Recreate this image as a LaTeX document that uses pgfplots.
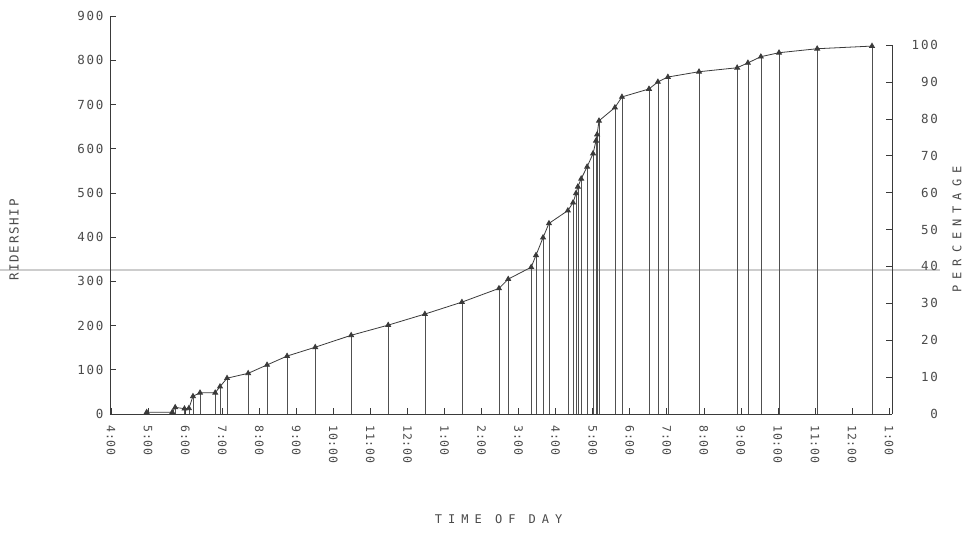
\documentclass[border=0pt]{standalone}
\usepackage{fontspec}
\setmainfont{DejaVu Sans}
\setmonofont{DejaVu Sans Mono}
\usepackage{pgfplots}
\pgfplotsset{compat=1.18}
\usepackage{pgfplotstable}
\newfontfamily\xtickfont[LetterSpace=7]{DejaVu Sans Mono}
\newfontfamily\ytickfont[LetterSpace=14]{DejaVu Sans Mono}
\newfontfamily\ridfont[LetterSpace=14]{DejaVu Sans Mono}
\newfontfamily\labfont[LetterSpace=50]{DejaVu Sans Mono}
\definecolor{ink}{HTML}{3A3A3A}
\definecolor{txt}{HTML}{4A4A4A}
\definecolor{stemc}{HTML}{505050}
\definecolor{scan}{HTML}{CDCDCD}

\pgfplotstableread{
h r
4.96 4
5.65 4
5.73 15
5.98 12
6.10 13
6.21 40
6.40 48
6.81 48
6.94 62
7.13 81
7.70 92
8.21 111
8.75 131
9.51 151
10.48 178
11.48 201
12.47 226
13.47 253
14.47 284
14.72 305
15.34 332
15.47 359
15.66 399
15.82 431
16.33 460
16.47 478
16.55 499
16.60 514
16.69 532
16.85 559
17.01 589
17.09 618
17.12 632
17.17 663
17.60 693
17.79 717
18.52 735
18.76 751
19.03 762
19.87 774
20.90 783
21.19 794
21.54 808
22.03 817
23.06 826
24.54 832
}\ridership

\begin{document}
\begin{tikzpicture}
\useasboundingbox (-110pt,-125pt) rectangle (857pt,414pt);
\draw[scan, line width=1.8pt] (-110pt,144pt) -- (830pt,144pt);
\begin{axis}[
  at={(0pt,0pt)}, anchor=south west,
  scale only axis, width=782pt, height=398pt,
  xmin=3.97, xmax=25.08, ymin=0, ymax=900,
  axis x line*=bottom, axis y line*=left,
  axis line style={ink, line width=0.9pt},
  xtick={4,...,25},
  xticklabels={4:00,5:00,6:00,7:00,8:00,9:00,10:00,11:00,12:00,1:00,2:00,3:00,4:00,5:00,6:00,7:00,8:00,9:00,10:00,11:00,12:00,1:00},
  ytick={0,100,...,900},
  tick align=inside,
  major tick length=6pt,
  tick style={ink, line width=0.6pt},
  /pgf/number format/assume math mode=true,
  xticklabel shift=8pt,
  xticklabel style={rotate=-90, anchor=west, font=\xtickfont\fontsize{11.5}{11.5}\selectfont, text=txt},
  yticklabel style={font=\ytickfont\fontsize{12.5}{12.5}\selectfont, text=txt, xshift=-3pt},
  xlabel={TIME OF DAY},
  ylabel={RIDERSHIP},
  xlabel style={at={(axis description cs:0.497,-0.2638)}, anchor=center, font=\labfont\fontsize{12}{12}\selectfont, text=txt},
  ylabel style={at={(axis description cs:-0.1228,0.437)}, anchor=center, font=\ridfont\fontsize{12.5}{12.5}\selectfont, text=txt},
  clip=false,
]
\addplot[ycomb, stemc, line width=0.7pt, no marks] table[x=h, y=r] {\ridership};
\addplot[ink, line width=0.8pt, mark=triangle*, mark size=2.8pt, mark options={fill=ink, draw=ink}] table[x=h, y=r] {\ridership};
\end{axis}
\begin{axis}[
  at={(0pt,0pt)}, anchor=south west,
  scale only axis, width=782pt, height=369pt,
  xmin=3.97, xmax=25.08, ymin=0, ymax=100,
  axis x line=none, axis y line*=right,
  axis line style={ink, line width=0.9pt},
  ytick={0,10,...,100},
  tick align=inside,
  major tick length=6pt,
  tick style={ink, line width=0.6pt},
  /pgf/number format/assume math mode=true,
  yticklabel style={font=\ytickfont\fontsize{12.5}{12.5}\selectfont, text=txt, anchor=east, inner sep=0pt, xshift=46pt},
  ylabel={PERCENTAGE},
  ylabel style={at={(axis description cs:1.083,0.50)}, anchor=center, font=\labfont\fontsize{12}{12}\selectfont, text=txt},
]
\end{axis}
\end{tikzpicture}
\end{document}
